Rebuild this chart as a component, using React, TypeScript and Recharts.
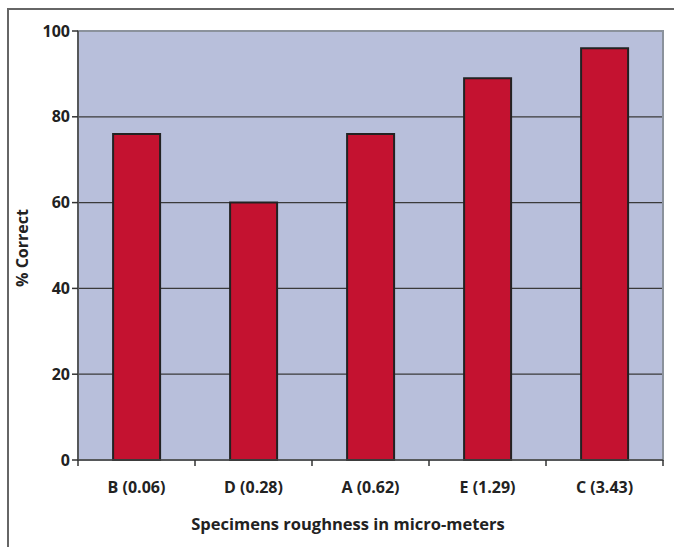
import React from "react";
import { BarChart, Bar, XAxis, YAxis, CartesianGrid, ReferenceArea, Label } from "recharts";

const categories = ["B (0.06)", "D (0.28)", "A (0.62)", "E (1.29)", "C (3.43)"];
const percentCorrect = [76, 60, 76, 89, 96];
const yTicks = [0, 20, 40, 60, 80, 100];
const gridValues = [20, 40, 60, 80];

const data = categories.map((name, i) => ({ name, value: percentCorrect[i] }));

const FONT = "'Open Sans', 'Noto Sans', sans-serif";
const W = 674;
const H = 547;
const M = { top: 31, right: 11, left: 0, bottom: 0 };
const Y_W = 78;
const X_H = 87;

const XTick = (props: any) => {
  const { x, y, payload, index } = props;
  const band = (W - M.left - M.right - Y_W) / categories.length;
  const y0 = y - 8;
  return (
    <g>
      <line x1={x - band / 2} x2={x - band / 2} y1={y0} y2={y0 + 6} stroke="#333" strokeWidth={1.5} />
      {index === categories.length - 1 && (
        <line x1={x + band / 2} x2={x + band / 2} y1={y0} y2={y0 + 6} stroke="#333" strokeWidth={1.5} />
      )}
      <text x={x} y={y0 + 27} textAnchor="middle" dominantBaseline="central" fontFamily={FONT} fontWeight={700} fontSize={16} fill="#222">
        {payload.value}
      </text>
    </g>
  );
};

export default function App() {
  return (
    <div style={{ position: "absolute", left: 0, top: 0, width: W, height: H, background: "#fff" }}>
      <div style={{ position: "absolute", left: 7, top: 8, right: 0, bottom: 0, borderLeft: "2px solid #666", borderTop: "2px solid #666" }} />
      <div style={{ position: "absolute", left: 0, top: 0 }}>
        <BarChart width={W} height={H} data={data} margin={M} barCategoryGap="30%">
          <CartesianGrid horizontal vertical={false} horizontalValues={gridValues} stroke="#3a3a3a" strokeWidth={1.2} fill="#B8BFDB" fillOpacity={1} />
          <ReferenceArea y1={0} y2={100} fill="none" stroke="#8B929C" strokeWidth={2} ifOverflow="visible" />
          <XAxis
            dataKey="name"
            height={X_H}
            tickLine={false}
            axisLine={{ stroke: "#444", strokeWidth: 1.5 }}
            tick={<XTick />}
            interval={0}
          >
            <Label
              content={() => (
                <text x={348} y={523} textAnchor="middle" dominantBaseline="central" fontFamily={FONT} fontWeight={700} fontSize={16.5} fill="#222">
                  Specimens roughness in micro-meters
                </text>
              )}
            />
          </XAxis>
          <YAxis
            width={Y_W}
            domain={[0, 100]}
            ticks={yTicks}
            interval={0}
            tickSize={6}
            tickMargin={2}
            tickLine={{ stroke: "#333", strokeWidth: 1.5 }}
            axisLine={{ stroke: "#444", strokeWidth: 1.5 }}
            tick={{ fontFamily: FONT, fontWeight: 700, fontSize: 16, fill: "#222" }}
          >
            <Label
              content={() => (
                <text x={22} y={248} transform="rotate(-90 22 248)" textAnchor="middle" dominantBaseline="central" fontFamily={FONT} fontWeight={700} fontSize={16} fill="#222">
                  % Correct
                </text>
              )}
            />
          </YAxis>
          <Bar dataKey="value" fill="#C41230" stroke="#222" strokeWidth={2} isAnimationActive={false} />
        </BarChart>
      </div>
    </div>
  );
}
